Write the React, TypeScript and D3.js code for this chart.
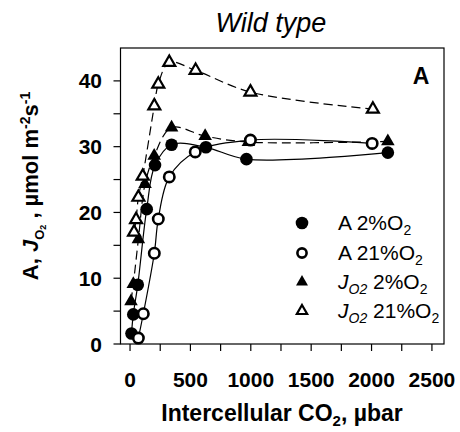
import React from "react";
import * as d3 from "d3";

// Intercellular CO2 (µbar) and rates (µmol m-2 s-1) for each series
const a2Ci = [12, 27, 64, 138, 207, 344, 628, 964, 2135];
const a2Val = [1.6, 4.5, 9.0, 20.5, 27.2, 30.3, 29.9, 28.1, 29.1];

const a21Ci = [69, 110, 201, 234, 325, 540, 997, 2005];
const a21Val = [0.9, 4.6, 13.8, 19.0, 25.4, 29.2, 31.0, 30.5];

const j2Ci = [8, 27, 69, 124, 200, 344, 622, 980, 2135];
const j2Val = [6.5, 9.1, 15.9, 24.3, 28.6, 32.9, 31.6, 30.7, 30.8];

const j21Ci = [33, 50, 69, 105, 201, 234, 325, 543, 997, 2011];
const j21Val = [17.0, 18.9, 22.3, 25.5, 36.2, 39.5, 42.8, 41.6, 38.3, 35.7];

const xTicks = [0, 500, 1000, 1500, 2000, 2500];
const xMinor = [250, 750, 1250, 1750, 2250];
const yTicks = [0, 10, 20, 30, 40];
const yMinor = [5, 15, 25, 35];

const W = 460;
const H = 432;
const left = 120.5;
const right = 444;
const top = 48;
const bottom = 344;

const x = d3.scaleLinear().domain([-79, 2600]).range([left, right]);
const y = d3.scaleLinear().domain([0, 45]).range([bottom, top]);

type Pt = [number, number];
const zip = (a: number[], b: number[]): Pt[] => a.map((v, i) => [v, b[i]]);

const line = d3
  .line<Pt>()
  .x((d) => x(d[0]))
  .y((d) => y(d[1]))
  .curve(d3.curveCatmullRom.alpha(0.5));

const tri = (size: number) => d3.symbol().type(d3.symbolTriangle).size(size)() || "";

const FONT = "'Liberation Sans', Arial, Helvetica, sans-serif";

export default function App() {
  const a2 = zip(a2Ci, a2Val);
  const a21 = zip(a21Ci, a21Val);
  const j2 = zip(j2Ci, j2Val);
  const j21 = zip(j21Ci, j21Val);

  const triFilled = tri(80);
  const triOpen = tri(62);

  const legendRows = [223, 253, 282, 311];
  const legX = 302;
  const legTextX = 338;

  return (
    <svg width={W} height={H} style={{ display: "block", position: "absolute", left: 0, top: 0 }} fontFamily={FONT}>
      <rect width={W} height={H} fill="white" />

      {/* title */}
      <text x={271} y={32} textAnchor="middle" fontSize={27} fontStyle="italic">
        Wild type
      </text>

      {/* frame */}
      <rect x={left} y={top} width={right - left} height={bottom - top} fill="none" stroke="black" strokeWidth={1.2} />

      {/* x ticks */}
      {xTicks.concat(xMinor).map((t) => (
        <line key={"xt" + t} x1={x(t)} x2={x(t)} y1={bottom} y2={bottom + 7} stroke="black" strokeWidth={1.2} />
      ))}
      {xTicks.map((t) => (
        <text key={"xl" + t} x={x(t)} y={387} textAnchor="middle" fontSize={21} fontWeight="bold">
          {t}
        </text>
      ))}

      {/* y ticks */}
      {yTicks.concat(yMinor).map((t) => (
        <line key={"yt" + t} x1={left - 7} x2={left} y1={y(t)} y2={y(t)} stroke="black" strokeWidth={1.2} />
      ))}
      {yTicks.map((t) => (
        <text key={"yl" + t} x={102} y={y(t) + 7.5} textAnchor="end" fontSize={21} fontWeight="bold">
          {t}
        </text>
      ))}

      {/* axis titles */}
      <text x={282} y={421} textAnchor="middle" fontSize={23} fontWeight="bold">
        Intercellular CO
        <tspan fontSize={15} dy={5}>2</tspan>
        <tspan dy={-5}>, µbar</tspan>
      </text>
      <text transform="translate(38,186) rotate(-90)" textAnchor="middle" fontSize={22} fontWeight="bold">
        A,{" "}
        <tspan fontStyle="italic">J</tspan>
        <tspan fontSize={13} dy={6}>O</tspan>
        <tspan fontSize={9} dy={2}>2</tspan>
        <tspan dy={-8}> , µmol m</tspan>
        <tspan fontSize={14} dy={-8}>-2</tspan>
        <tspan dy={8}>s</tspan>
        <tspan fontSize={14} dy={-8}>-1</tspan>
      </text>

      {/* panel letter */}
      <text x={421} y={84} textAnchor="middle" fontSize={23} fontWeight="bold">
        A
      </text>

      {/* curves */}
      <path d={line(j21) || ""} fill="none" stroke="black" strokeWidth={1.2} strokeDasharray="9,5" />
      <path d={line(j2) || ""} fill="none" stroke="black" strokeWidth={1.2} strokeDasharray="9,5" />
      <path d={line(a2) || ""} fill="none" stroke="black" strokeWidth={1.2} />
      <path d={line(a21) || ""} fill="none" stroke="black" strokeWidth={1.2} />

      {/* markers */}
      {j2.map((d, i) => (
        <path key={"j2" + i} d={triFilled} transform={`translate(${x(d[0])},${y(d[1])})`} fill="black" />
      ))}
      {j21.map((d, i) => (
        <path key={"j21" + i} d={triOpen} transform={`translate(${x(d[0])},${y(d[1])})`} fill="white" stroke="black" strokeWidth={2.2} />
      ))}
      {a2.map((d, i) => (
        <circle key={"a2" + i} cx={x(d[0])} cy={y(d[1])} r={6.3} fill="black" />
      ))}
      {a21.map((d, i) => (
        <circle key={"a21" + i} cx={x(d[0])} cy={y(d[1])} r={5.2} fill="white" stroke="black" strokeWidth={2.6} />
      ))}

      {/* legend */}
      <circle cx={legX} cy={legendRows[0]} r={6.3} fill="black" />
      <circle cx={legX} cy={legendRows[1]} r={4.6} fill="white" stroke="black" strokeWidth={2.6} />
      <path d={tri(62)} transform={`translate(${legX},${legendRows[2]})`} fill="black" />
      <path d={tri(46)} transform={`translate(${legX},${legendRows[3]})`} fill="white" stroke="black" strokeWidth={2.2} />

      <g fontSize={21}>
        <text x={legTextX} y={legendRows[0] + 7}>
          A 2%O<tspan fontSize={14} dy={5}>2</tspan>
        </text>
        <text x={legTextX} y={legendRows[1] + 7}>
          A 21%O<tspan fontSize={14} dy={5}>2</tspan>
        </text>
        <text x={legTextX} y={legendRows[2] + 7}>
          <tspan fontStyle="italic">J</tspan>
          <tspan fontStyle="italic" fontSize={14} dy={5}>O2</tspan>
          <tspan dy={-5}> 2%O</tspan>
          <tspan fontSize={14} dy={5}>2</tspan>
        </text>
        <text x={legTextX} y={legendRows[3] + 7}>
          <tspan fontStyle="italic">J</tspan>
          <tspan fontStyle="italic" fontSize={14} dy={5}>O2</tspan>
          <tspan dy={-5}> 21%O</tspan>
          <tspan fontSize={14} dy={5}>2</tspan>
        </text>
      </g>
    </svg>
  );
}
